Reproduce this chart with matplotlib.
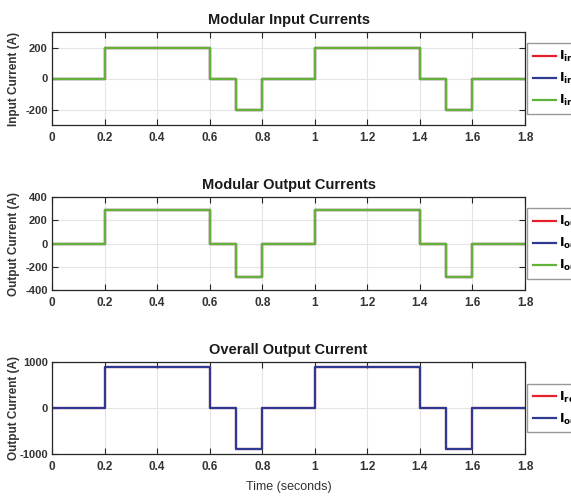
import matplotlib
matplotlib.use("Agg")
import matplotlib.pyplot as plt
from matplotlib.ticker import FuncFormatter

plt.rcParams['font.family'] = ['Liberation Sans', 'DejaVu Sans']
plt.rcParams['axes.unicode_minus'] = False

# Switching instants (s) and piecewise-constant current levels (A)
t_edges = [0.0, 0.2, 0.6, 0.7, 0.8, 1.0, 1.4, 1.5, 1.6, 1.8]
i_in1 = [0, 200, 0, -200, 0, 200, 0, -200, 0, 0]
i_in2 = [0, 200, 0, -200, 0, 200, 0, -200, 0, 0]
i_in3 = [0, 200, 0, -200, 0, 200, 0, -200, 0, 0]
i_out1 = [0, 292, 0, -292, 0, 292, 0, -292, 0, 0]
i_out2 = [0, 292, 0, -292, 0, 292, 0, -292, 0, 0]
i_out3 = [0, 292, 0, -292, 0, 292, 0, -292, 0, 0]
i_ref = [0, 885, 0, -885, 0, 885, 0, -885, 0, 0]
i_out = [0, 885, 0, -885, 0, 885, 0, -885, 0, 0]

x_ticks = [0, 0.2, 0.4, 0.6, 0.8, 1.0, 1.2, 1.4, 1.6, 1.8]

RED = '#e5202a'
BLUE = '#2e3a92'
GREEN = '#63b33a'

fig = plt.figure(figsize=(5.71, 4.96), dpi=100)

W, H = 571, 496
def rect(left, top, right, bottom):
    return [left / W, 1 - bottom / H, (right - left) / W, (bottom - top) / H]

panels = [
    dict(rect=rect(52, 32, 525, 125), title='Modular Input Currents',
         ylabel='Input Current (A)', ylim=(-300, 300), yticks=[-200, 0, 200],
         series=[(i_in1, RED, r'$\mathbf{I_{in1}}$'),
                 (i_in2, BLUE, r'$\mathbf{I_{in2}}$'),
                 (i_in3, GREEN, r'$\mathbf{I_{in3}}$')]),
    dict(rect=rect(52, 197, 525, 290), title='Modular Output Currents',
         ylabel='Output Current (A)', ylim=(-400, 400),
         yticks=[-400, -200, 0, 200, 400],
         series=[(i_out1, RED, r'$\mathbf{I_{out1}}$'),
                 (i_out2, BLUE, r'$\mathbf{I_{out2}}$'),
                 (i_out3, GREEN, r'$\mathbf{I_{out3}}$')]),
    dict(rect=rect(52, 362, 525, 454), title='Overall Output Current',
         ylabel='Output Current (A)', ylim=(-1000, 1000),
         yticks=[-1000, 0, 1000],
         series=[(i_ref, RED, r'$\mathbf{I_{ref}}$'),
                 (i_out, BLUE, r'$\mathbf{I_{out}}$')]),
]

for k, p in enumerate(panels):
    ax = fig.add_axes(p['rect'])
    for vals, col, lab in p['series']:
        ax.plot(t_edges, vals, drawstyle='steps-post', color=col, lw=1.6,
                label=lab)
    ax.set_xlim(0, 1.8)
    ax.set_ylim(*p['ylim'])
    ax.set_xticks(x_ticks)
    ax.set_yticks(p['yticks'])
    ax.xaxis.set_major_formatter(FuncFormatter(lambda v, pos: f'{v:g}'))
    ax.grid(True, color='#e4e4e4', lw=0.8)
    ax.set_axisbelow(True)
    ax.tick_params(direction='in', top=True, right=True, length=4,
                   width=0.8, color='#262626', pad=5)
    ax.tick_params(axis='x', labelsize=8.5)
    ax.tick_params(axis='y', labelsize=8, pad=3)
    for lbl in ax.get_xticklabels() + ax.get_yticklabels():
        lbl.set_fontweight('bold')
        lbl.set_color('#333333')
    for s in ax.spines.values():
        s.set_color('#262626')
        s.set_linewidth(0.9)
    ax.set_title(p['title'], fontsize=10.5, fontweight='bold', color='#1a1a1a',
                 pad=6)
    ax.set_ylabel(p['ylabel'], fontsize=8.5, fontweight='bold',
                  color='#333333')
    ax.yaxis.set_label_coords(-32 / 473, 0.5)
    leg = ax.legend(loc='center left', bbox_to_anchor=(1.004, 0.5),
                    fontsize=9, frameon=True, fancybox=False,
                    edgecolor='#808080', handlelength=1.9,
                    handletextpad=0.25, labelspacing=0.55, borderpad=0.45,
                    borderaxespad=0)
    leg.get_frame().set_linewidth(1.0)
    if k == 2:
        ax.set_xlabel('Time (seconds)', fontsize=9, color='#333333',
                      labelpad=6)

fig.savefig('out.png', dpi=100)
